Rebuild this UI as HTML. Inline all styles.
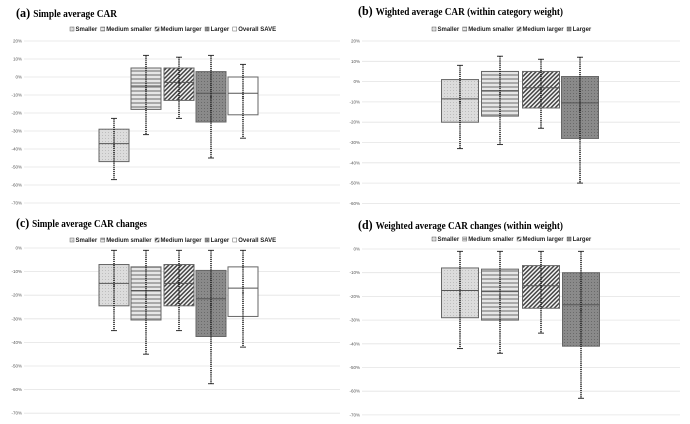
<!DOCTYPE html>
<html><head><meta charset="utf-8"><style>
body{margin:0;background:#fff;}
svg{display:block;font-family:"Liberation Sans",sans-serif;}
.ttl{font-family:"Liberation Serif",serif;font-weight:bold;}
</style></head><body>
<svg id="c" width="690" height="424">
<defs>
<pattern id="pS" width="3" height="3" patternUnits="userSpaceOnUse"><rect width="3" height="3" fill="#dcdcdc"/><rect width="1" height="1" fill="#bdbdbd"/></pattern>
<pattern id="pMS" width="4" height="4" patternUnits="userSpaceOnUse"><rect width="4" height="4" fill="#e6e6e6"/><rect y="2" width="4" height="2" fill="#a8a8a8"/></pattern>
<pattern id="pML" width="3" height="3" patternUnits="userSpaceOnUse" patternTransform="rotate(45)"><rect width="3" height="3" fill="#f4f4f4"/><rect width="1.5" height="3" fill="#444"/></pattern>
<pattern id="pL" width="3" height="3" patternUnits="userSpaceOnUse"><rect width="3" height="3" fill="#8a8a8a"/><rect width="1" height="1" fill="#6a6a6a"/></pattern>
</defs>
</svg>
<script>
const categories=["Smaller","Medium smaller","Medium larger","Larger","Overall SAVE"];
const aLow=[-57,-32,-23,-45,-34], aQ1=[-47,-18,-13,-25,-21], aMed=[-37,-5,-3,-9,-9], aQ3=[-29,5,5,3,0], aHigh=[-23,12,11,12,7], aMean=[-38,-7,-3,-11,-11];
const bLow=[-33,-31,-23,-50], bQ1=[-20,-17,-13,-28], bMed=[-8.5,-4.5,-3,-10.5], bQ3=[1,5,5,2.5], bHigh=[8,12.5,11,12], bMean=[-10,-6,-4,-14];
const cLow=[-35,-45,-35,-57.5,-42], cQ1=[-24.5,-30.5,-24.5,-37.5,-29], cMed=[-15,-18,-15,-21.5,-17], cQ3=[-7,-8,-7,-9.5,-8], cHigh=[-1,-1,-1,-1,-1], cMean=[-16,-20,-15,-24,-19];
const dLow=[-42,-44,-35.5,-63], dQ1=[-29,-30,-25,-41], dMed=[-17.5,-18,-15.5,-23.5], dQ3=[-8,-8.5,-7,-10], dHigh=[-1,-1,-1,-1], dMean=[-19,-20,-16,-26];
const ticksA=[20,10,0,-10,-20,-30,-40,-50,-60,-70];
const ticksB=[20,10,0,-10,-20,-30,-40,-50,-60];
const ticksC=[0,-10,-20,-30,-40,-50,-60,-70];
const fills=["url(#pS)","url(#pMS)","url(#pML)","url(#pL)","#fff"];
const svg=document.getElementById('c');
const NS="http://www.w3.org/2000/svg";
function mk(t,a,p){const e=document.createElementNS(NS,t);for(const k in a)e.setAttribute(k,a[k]);(p||svg).appendChild(e);return e;}
function panel(o){
 const g=mk('g',{});
 
 
 const y=v=>o.y0+(o.top-v)/10*o.step;
 const t=mk('text',{x:o.tx,y:o.ty,class:'ttl','font-size':10,textLength:o.tw,lengthAdjust:'spacingAndGlyphs'},g);
 
 
 const s1=mk('tspan',{'font-size':13},t);s1.textContent='('+o.id+') ';
 const s2=mk('tspan',{},t);s2.textContent=o.title;
 o.ticks.forEach(v=>{
  const l=mk('line',{x1:o.x1,x2:o.x2,y1:y(v),y2:y(v),stroke:'#e4e4e4','stroke-width':0.8},g);
  
  
  const tx=mk('text',{x:o.x1-2,y:y(v)+1.5,'font-size':4.5,'text-anchor':'end',fill:'#555'},g);
  
  
  tx.textContent=v+'%';
 });
 let lx=o.lx;
 for(let i=0;i<o.n;i++){
  const r=mk('rect',{x:lx,y:o.ly-4,width:4,height:4,fill:fills[i],stroke:'#666','stroke-width':0.5},g);
  
  
  const tt=mk('text',{x:lx+5.5,y:o.ly,'font-size':6,fill:'#222','font-weight':'bold'},g);
  
  
  tt.textContent=categories[i];
  lx+=7+tt.getComputedTextLength()+2;
 }
 for(let i=0;i<o.n;i++){
  const cx=o.cx[i],w=o.w;
  const b=mk('rect',{x:cx-w/2,y:y(o.q3[i]),width:w,height:y(o.q1[i])-y(o.q3[i]),fill:fills[i],stroke:'#666','stroke-width':1},g);
  
  
  const m=mk('line',{x1:cx-w/2,x2:cx+w/2,y1:y(o.med[i]),y2:y(o.med[i]),stroke:'#555','stroke-width':1},g);
  
  
  const wk=mk('line',{x1:cx,x2:cx,y1:y(o.hi[i]),y2:y(o.lo[i]),stroke:'#222','stroke-width':1.6,'stroke-dasharray':'1.2 0.9'},g);
  
  
  [o.hi[i],o.lo[i]].forEach(v=>{
   const c=mk('line',{x1:cx-3,x2:cx+3,y1:y(v),y2:y(v),stroke:'#333','stroke-width':1},g);
   
   
  });
  const mx=mk('text',{x:cx,y:y(o.mean[i])+2,'font-size':5,'text-anchor':'middle',fill:'#222'},g);
  
  
  mx.textContent='×';
 }
}
panel({id:'a',title:'Simple average CAR',tx:16,ty:17,tw:101,top:20,y0:41,step:18,ticks:ticksA,x1:24,x2:340,lx:70,ly:31,n:5,cx:[114,146,179,211,243],w:30,lo:aLow,q1:aQ1,med:aMed,q3:aQ3,hi:aHigh,mean:aMean});
panel({id:'b',title:'Wighted average CAR (within category weight)',tx:358,ty:15,tw:205,top:20,y0:41,step:20.3,ticks:ticksB,x1:362,x2:680,lx:432,ly:31,n:4,cx:[460,500,541,580],w:37,lo:bLow,q1:bQ1,med:bMed,q3:bQ3,hi:bHigh,mean:bMean});
panel({id:'c',title:'Simple average CAR changes',tx:16,ty:227,tw:131,top:0,y0:248,step:23.6,ticks:ticksC,x1:24,x2:340,lx:70,ly:242,n:5,cx:[114,146,179,211,243],w:30,lo:cLow,q1:cQ1,med:cMed,q3:cQ3,hi:cHigh,mean:cMean});
panel({id:'d',title:'Weighted average CAR changes (within weight)',tx:358,ty:229,tw:205,top:0,y0:249,step:23.7,ticks:ticksC,x1:362,x2:680,lx:432,ly:241,n:4,cx:[460,500,541,581],w:37,lo:dLow,q1:dQ1,med:dMed,q3:dQ3,hi:dHigh,mean:dMean});
</script>
</body></html>
